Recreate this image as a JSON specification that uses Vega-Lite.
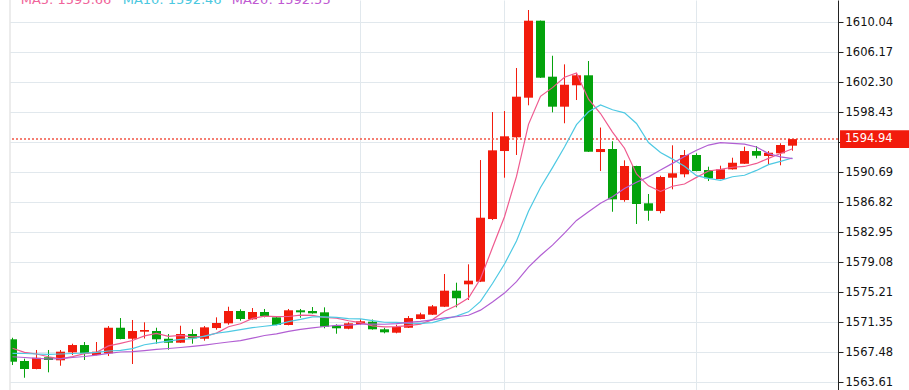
{
  "$schema": "https://vega.github.io/schema/vega-lite/v6.json",
  "width": 828,
  "height": 390,
  "autosize": {"type": "none"},
  "padding": {"left": 10, "top": 0, "right": 71, "bottom": 0},
  "background": "white",
  "config": {"view": {"stroke": null}, "font": "DejaVu Sans"},
  "datasets": {
    "k": [
      {"i":0,"open":1569.12,"high":1569.32,"low":1565.80,"close":1566.23,"ma5":1567.96,"ma10":1567.31,"ma20":1566.87},
      {"i":1,"open":1566.32,"high":1566.62,"low":1564.16,"close":1565.29,"ma5":1567.44,"ma10":1567.29,"ma20":1566.77},
      {"i":2,"open":1565.29,"high":1567.74,"low":1565.25,"close":1566.74,"ma5":1567.22,"ma10":1567.22,"ma20":1566.67},
      {"i":3,"open":1566.80,"high":1567.74,"low":1564.86,"close":1566.45,"ma5":1566.87,"ma10":1567.18,"ma20":1566.58},
      {"i":4,"open":1566.41,"high":1567.74,"low":1565.71,"close":1567.52,"ma5":1566.60,"ma10":1567.22,"ma20":1566.62},
      {"i":5,"open":1567.44,"high":1568.55,"low":1567.09,"close":1568.38,"ma5":1566.88,"ma10":1567.29,"ma20":1566.77},
      {"i":6,"open":1568.38,"high":1568.77,"low":1566.45,"close":1567.31,"ma5":1567.28,"ma10":1567.35,"ma20":1566.90},
      {"i":7,"open":1567.09,"high":1568.77,"low":1567.05,"close":1567.52,"ma5":1567.44,"ma10":1567.44,"ma20":1567.09},
      {"i":8,"open":1567.31,"high":1570.83,"low":1566.96,"close":1570.61,"ma5":1568.27,"ma10":1567.61,"ma20":1567.31},
      {"i":9,"open":1570.61,"high":1571.86,"low":1569.12,"close":1569.16,"ma5":1568.60,"ma10":1567.70,"ma20":1567.48},
      {"i":10,"open":1569.19,"high":1571.61,"low":1565.93,"close":1570.19,"ma5":1568.96,"ma10":1567.92,"ma20":1567.52},
      {"i":11,"open":1570.10,"high":1571.31,"low":1569.22,"close":1570.32,"ma5":1569.56,"ma10":1568.42,"ma20":1567.67},
      {"i":12,"open":1570.19,"high":1570.61,"low":1568.55,"close":1569.12,"ma5":1569.88,"ma10":1568.66,"ma20":1567.83},
      {"i":13,"open":1569.19,"high":1569.80,"low":1567.78,"close":1568.68,"ma5":1569.49,"ma10":1568.88,"ma20":1567.93},
      {"i":14,"open":1568.68,"high":1570.87,"low":1568.65,"close":1569.80,"ma5":1569.62,"ma10":1569.11,"ma20":1568.06},
      {"i":15,"open":1569.80,"high":1570.41,"low":1568.55,"close":1569.25,"ma5":1569.43,"ma10":1569.19,"ma20":1568.21},
      {"i":16,"open":1569.19,"high":1570.83,"low":1568.94,"close":1570.66,"ma5":1569.50,"ma10":1569.53,"ma20":1568.38},
      {"i":17,"open":1570.57,"high":1571.95,"low":1570.36,"close":1571.22,"ma5":1569.92,"ma10":1569.90,"ma20":1568.58},
      {"i":18,"open":1571.18,"high":1573.32,"low":1571.00,"close":1572.77,"ma5":1570.74,"ma10":1570.12,"ma20":1568.77},
      {"i":19,"open":1572.77,"high":1572.99,"low":1571.52,"close":1571.74,"ma5":1571.13,"ma10":1570.37,"ma20":1568.95},
      {"i":20,"open":1571.70,"high":1573.15,"low":1571.65,"close":1572.64,"ma5":1571.81,"ma10":1570.62,"ma20":1569.27},
      {"i":21,"open":1572.64,"high":1573.03,"low":1571.95,"close":1572.12,"ma5":1572.10,"ma10":1570.80,"ma20":1569.61},
      {"i":22,"open":1571.95,"high":1572.00,"low":1570.92,"close":1570.96,"ma5":1572.05,"ma10":1570.98,"ma20":1569.82},
      {"i":23,"open":1570.96,"high":1573.03,"low":1570.92,"close":1572.86,"ma5":1572.06,"ma10":1571.40,"ma20":1570.14},
      {"i":24,"open":1572.86,"high":1573.03,"low":1571.90,"close":1572.60,"ma5":1572.24,"ma10":1571.68,"ma20":1570.39},
      {"i":25,"open":1572.77,"high":1573.28,"low":1572.43,"close":1572.47,"ma5":1572.20,"ma10":1572.00,"ma20":1570.60},
      {"i":26,"open":1572.60,"high":1573.24,"low":1570.54,"close":1570.74,"ma5":1571.93,"ma10":1572.01,"ma20":1570.77},
      {"i":27,"open":1570.87,"high":1571.05,"low":1569.84,"close":1570.54,"ma5":1571.84,"ma10":1571.94,"ma20":1570.92},
      {"i":28,"open":1570.48,"high":1571.31,"low":1570.41,"close":1571.18,"ma5":1571.51,"ma10":1571.78,"ma20":1570.95},
      {"i":29,"open":1571.09,"high":1571.70,"low":1571.00,"close":1571.44,"ma5":1571.27,"ma10":1571.75,"ma20":1571.06},
      {"i":30,"open":1571.39,"high":1571.67,"low":1570.37,"close":1570.41,"ma5":1570.86,"ma10":1571.53,"ma20":1571.08},
      {"i":31,"open":1570.41,"high":1570.61,"low":1569.89,"close":1570.02,"ma5":1570.72,"ma10":1571.32,"ma20":1571.06},
      {"i":32,"open":1569.97,"high":1571.00,"low":1569.89,"close":1570.70,"ma5":1570.75,"ma10":1571.30,"ma20":1571.14},
      {"i":33,"open":1570.61,"high":1572.12,"low":1570.58,"close":1571.86,"ma5":1570.89,"ma10":1571.20,"ma20":1571.30},
      {"i":34,"open":1571.74,"high":1572.55,"low":1571.70,"close":1572.34,"ma5":1571.07,"ma10":1571.17,"ma20":1571.43},
      {"i":35,"open":1572.29,"high":1573.54,"low":1572.25,"close":1573.37,"ma5":1571.66,"ma10":1571.26,"ma20":1571.63},
      {"i":36,"open":1573.32,"high":1577.54,"low":1573.28,"close":1575.39,"ma5":1572.73,"ma10":1571.72,"ma20":1571.87},
      {"i":37,"open":1575.39,"high":1576.42,"low":1573.24,"close":1574.41,"ma5":1573.47,"ma10":1572.11,"ma20":1572.03},
      {"i":38,"open":1576.21,"high":1578.79,"low":1574.19,"close":1576.68,"ma5":1574.44,"ma10":1572.66,"ma20":1572.22},
      {"i":39,"open":1576.55,"high":1592.24,"low":1576.50,"close":1584.80,"ma5":1576.93,"ma10":1574.00,"ma20":1572.88},
      {"i":40,"open":1584.63,"high":1598.43,"low":1584.50,"close":1593.49,"ma5":1580.95,"ma10":1576.31,"ma20":1573.92},
      {"i":41,"open":1593.40,"high":1598.56,"low":1589.96,"close":1595.30,"ma5":1584.93,"ma10":1578.83,"ma20":1575.08},
      {"i":42,"open":1595.17,"high":1604.11,"low":1592.89,"close":1600.41,"ma5":1590.13,"ma10":1581.80,"ma20":1576.55},
      {"i":43,"open":1600.28,"high":1611.59,"low":1599.30,"close":1610.21,"ma5":1596.84,"ma10":1585.64,"ma20":1578.42},
      {"i":44,"open":1610.21,"high":1610.23,"low":1602.83,"close":1602.86,"ma5":1600.45,"ma10":1588.69,"ma20":1579.93},
      {"i":45,"open":1602.99,"high":1605.69,"low":1598.39,"close":1599.12,"ma5":1601.58,"ma10":1591.26,"ma20":1581.26},
      {"i":46,"open":1599.12,"high":1604.58,"low":1596.98,"close":1601.95,"ma5":1602.91,"ma10":1593.92,"ma20":1582.82},
      {"i":47,"open":1601.88,"high":1603.42,"low":1599.98,"close":1603.17,"ma5":1603.46,"ma10":1596.80,"ma20":1584.45},
      {"i":48,"open":1603.17,"high":1605.01,"low":1593.28,"close":1593.31,"ma5":1600.08,"ma10":1598.46,"ma20":1585.56},
      {"i":49,"open":1593.27,"high":1596.43,"low":1590.82,"close":1593.66,"ma5":1598.24,"ma10":1599.35,"ma20":1586.67},
      {"i":50,"open":1593.66,"high":1594.67,"low":1585.57,"close":1587.17,"ma5":1595.85,"ma10":1598.72,"ma20":1587.51},
      {"i":51,"open":1587.08,"high":1592.20,"low":1586.86,"close":1591.47,"ma5":1593.76,"ma10":1598.33,"ma20":1588.58},
      {"i":52,"open":1591.47,"high":1591.50,"low":1583.99,"close":1586.57,"ma5":1590.44,"ma10":1596.95,"ma20":1589.38},
      {"i":53,"open":1586.66,"high":1587.86,"low":1584.41,"close":1585.70,"ma5":1588.91,"ma10":1594.50,"ma20":1590.07},
      {"i":54,"open":1585.66,"high":1590.22,"low":1585.37,"close":1590.05,"ma5":1588.19,"ma10":1593.22,"ma20":1590.95},
      {"i":55,"open":1589.96,"high":1594.14,"low":1588.46,"close":1590.53,"ma5":1588.86,"ma10":1592.36,"ma20":1591.81},
      {"i":56,"open":1590.40,"high":1593.53,"low":1590.01,"close":1592.89,"ma5":1589.15,"ma10":1591.45,"ma20":1592.69},
      {"i":57,"open":1592.89,"high":1593.11,"low":1590.79,"close":1590.82,"ma5":1590.00,"ma10":1590.22,"ma20":1593.51},
      {"i":58,"open":1590.95,"high":1591.38,"low":1589.53,"close":1589.88,"ma5":1590.83,"ma10":1589.87,"ma20":1594.17},
      {"i":59,"open":1589.79,"high":1591.51,"low":1589.76,"close":1591.04,"ma5":1591.03,"ma10":1589.61,"ma20":1594.48},
      {"i":60,"open":1591.04,"high":1592.54,"low":1591.01,"close":1591.89,"ma5":1591.31,"ma10":1590.08,"ma20":1594.40},
      {"i":61,"open":1591.76,"high":1593.96,"low":1591.73,"close":1593.40,"ma5":1591.41,"ma10":1590.28,"ma20":1594.30},
      {"i":62,"open":1593.40,"high":1594.05,"low":1592.46,"close":1592.80,"ma5":1591.80,"ma10":1590.90,"ma20":1593.92},
      {"i":63,"open":1592.76,"high":1593.40,"low":1591.60,"close":1593.18,"ma5":1592.46,"ma10":1591.65,"ma20":1593.07},
      {"i":64,"open":1593.11,"high":1594.40,"low":1591.56,"close":1594.18,"ma5":1593.09,"ma10":1592.06,"ma20":1592.64},
      {"i":65,"open":1594.09,"high":1594.94,"low":1593.44,"close":1594.94,"ma5":1593.70,"ma10":1592.50,"ma20":1592.43}
    ],
    "last": [{"price": 1594.94}]
  },
  "layer": [
    {
      "data": {"name": "k"},
      "mark": {"type": "rule", "strokeWidth": 1, "clip": true},
      "encoding": {
        "x": {"field": "i", "type": "quantitative",
          "scale": {"domain": [-0.2083, 68.7917], "nice": false, "zero": false, "padding": 0},
          "axis": {"orient": "bottom", "values": [29, 41, 57], "tickCount": 20, "grid": true, "gridColor": "#e1e8ed", "gridWidth": 1, "labels": false, "ticks": false, "domain": false, "title": null}},
        "y": {"field": "low", "type": "quantitative",
          "scale": {"domain": [1562.58, 1612.88], "nice": false, "zero": false, "padding": 0},
          "axis": {"orient": "right", "values": [1563.61, 1567.48, 1571.35, 1575.21, 1579.08, 1582.95, 1586.82, 1590.69, 1594.56, 1598.43, 1602.30, 1606.17, 1610.04],
            "tickCount": 30, "format": ".2f", "labelExpr": "datum.value == 1594.56 ? '' : datum.label",
            "grid": true, "gridColor": "#e1e8ed", "gridWidth": 1, "domain": true, "domainColor": "#222222", "domainWidth": 1,
            "tickColor": "#222222", "tickSize": 5, "tickWidth": 1, "labelPadding": 2, "labelFont": "DejaVu Sans", "labelFontSize": 11.5,
            "labelColor": "#111111", "labelBaseline": "middle", "labelBound": false, "labelOverlap": false, "labelFlush": false, "title": null}},
        "y2": {"field": "high"},
        "color": {"condition": {"test": "datum.close > datum.open", "value": "#f21b0c"}, "value": "#03a20b"}
      }
    },
    {
      "data": {"name": "last"},
      "mark": {"type": "rule", "color": "#f25545", "strokeWidth": 1.5, "strokeDash": [2, 2]},
      "encoding": {
        "y": {"field": "price", "type": "quantitative"}
      }
    },
    {
      "data": {"name": "k"},
      "mark": {"type": "bar", "width": 9, "clip": true},
      "encoding": {
        "x": {"field": "i", "type": "quantitative"},
        "y": {"field": "open", "type": "quantitative"},
        "y2": {"field": "close"},
        "color": {"condition": {"test": "datum.close > datum.open", "value": "#f21b0c"}, "value": "#03a20b"}
      }
    },
    {
      "data": {"name": "k"},
      "mark": {"type": "line", "color": "#ef5a8f", "strokeWidth": 1.2, "clip": true},
      "encoding": {
        "x": {"field": "i", "type": "quantitative"},
        "y": {"field": "ma5", "type": "quantitative"}
      }
    },
    {
      "data": {"name": "k"},
      "mark": {"type": "line", "color": "#4ec9e3", "strokeWidth": 1.2, "clip": true},
      "encoding": {
        "x": {"field": "i", "type": "quantitative"},
        "y": {"field": "ma10", "type": "quantitative"}
      }
    },
    {
      "data": {"name": "k"},
      "mark": {"type": "line", "color": "#b25fd3", "strokeWidth": 1.2, "clip": true},
      "encoding": {
        "x": {"field": "i", "type": "quantitative"},
        "y": {"field": "ma20", "type": "quantitative"}
      }
    },
    {
      "data": {"name": "last"},
      "mark": {"type": "rule", "color": "#d9d9d9", "strokeWidth": 1},
      "encoding": {
        "x": {"datum": -0.2083, "type": "quantitative"}
      }
    },
    {
      "data": {"name": "last"},
      "mark": {"type": "rule", "color": "#f21b0c", "strokeWidth": 17.7, "strokeCap": "butt", "clip": false},
      "encoding": {
        "x": {"datum": 68.96, "type": "quantitative"},
        "x2": {"datum": 74.75},
        "y": {"field": "price", "type": "quantitative"}
      }
    },
    {
      "data": {"name": "last"},
      "mark": {"type": "text", "color": "white", "font": "DejaVu Sans", "fontSize": 11.5, "align": "left", "baseline": "middle"},
      "encoding": {
        "x": {"datum": 69.375, "type": "quantitative"},
        "y": {"field": "price", "type": "quantitative"},
        "text": {"field": "price", "type": "quantitative", "format": ".2f"}
      }
    },
    {
      "data": {"name": "last"},
      "mark": {"type": "text", "color": "#f0649a", "font": "DejaVu Sans", "fontSize": 13, "align": "left", "baseline": "alphabetic"},
      "encoding": {
        "x": {"datum": 0.68, "type": "quantitative"},
        "y": {"datum": 1612.36, "type": "quantitative"},
        "text": {"value": "MA5: 1593.66"}
      }
    },
    {
      "data": {"name": "last"},
      "mark": {"type": "text", "color": "#4cc8e0", "font": "DejaVu Sans", "fontSize": 13, "align": "left", "baseline": "alphabetic"},
      "encoding": {
        "x": {"datum": 9.18, "type": "quantitative"},
        "y": {"datum": 1612.36, "type": "quantitative"},
        "text": {"value": "MA10: 1592.46"}
      }
    },
    {
      "data": {"name": "last"},
      "mark": {"type": "text", "color": "#c05ad2", "font": "DejaVu Sans", "fontSize": 13, "align": "left", "baseline": "alphabetic"},
      "encoding": {
        "x": {"datum": 18.27, "type": "quantitative"},
        "y": {"datum": 1612.36, "type": "quantitative"},
        "text": {"value": "MA20: 1592.55"}
      }
    }
  ]
}
